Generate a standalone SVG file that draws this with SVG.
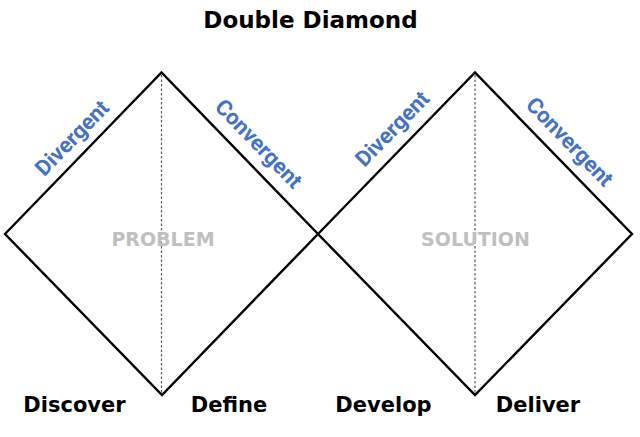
<svg xmlns="http://www.w3.org/2000/svg" width="640" height="437" viewBox="0 0 640 437">
<style>
.edge{fill:none;stroke:#000;stroke-width:2.4;stroke-linejoin:miter}
.axis{stroke:#595959;stroke-width:1.2;stroke-dasharray:2.5 2}
.title{font-family:"DejaVu Sans",Verdana,sans-serif;font-weight:bold;font-size:23px;fill:#000;text-anchor:middle}
.phase{font-family:"DejaVu Sans",Verdana,sans-serif;font-weight:bold;font-size:21px;fill:#000;text-anchor:middle}
.space{font-family:"DejaVu Sans",Verdana,sans-serif;font-weight:bold;font-size:19px;fill:#bfbfbf;text-anchor:middle}
.mode{font-family:Roboto,"Noto Sans",sans-serif;font-weight:bold;font-size:22px;fill:#4472c4;text-anchor:middle}
</style>
<rect width="640" height="437" fill="#fff"/>
<text class="title" x="310.5" y="28">Double Diamond</text>
<g id="connectors">
<line class="axis" x1="161.5" y1="75" x2="161.5" y2="393"/>
<line class="axis" x1="475" y1="75" x2="475" y2="393"/>
</g>
<g id="diamond-problem">
<polygon class="edge" points="5,234 161.5,72.5 318,234 162,395"/>
<text class="space" x="163" y="246">PROBLEM</text>
<text class="mode" transform="translate(86,151.5) rotate(-45.9)" x="0" y="-12" textLength="95" lengthAdjust="spacingAndGlyphs">Divergent</text>
<text class="mode" transform="translate(244,158) rotate(46)" x="0" y="-13" textLength="114" lengthAdjust="spacingAndGlyphs">Convergent</text>
</g>
<g id="diamond-solution">
<polygon class="edge" points="318,234 475,72.5 632,234 475,395"/>
<text class="space" x="475.5" y="246">SOLUTION</text>
<text class="mode" transform="translate(407,143) rotate(-45.9)" x="0" y="-13" textLength="95" lengthAdjust="spacingAndGlyphs">Divergent</text>
<text class="mode" transform="translate(555,156) rotate(46)" x="0" y="-13" textLength="114" lengthAdjust="spacingAndGlyphs">Convergent</text>
</g>
<g id="phases">
<text class="phase" x="74.5" y="412">Discover</text>
<text class="phase" x="229" y="412">Define</text>
<text class="phase" x="383.5" y="412">Develop</text>
<text class="phase" x="538" y="412">Deliver</text>
</g>
</svg>
